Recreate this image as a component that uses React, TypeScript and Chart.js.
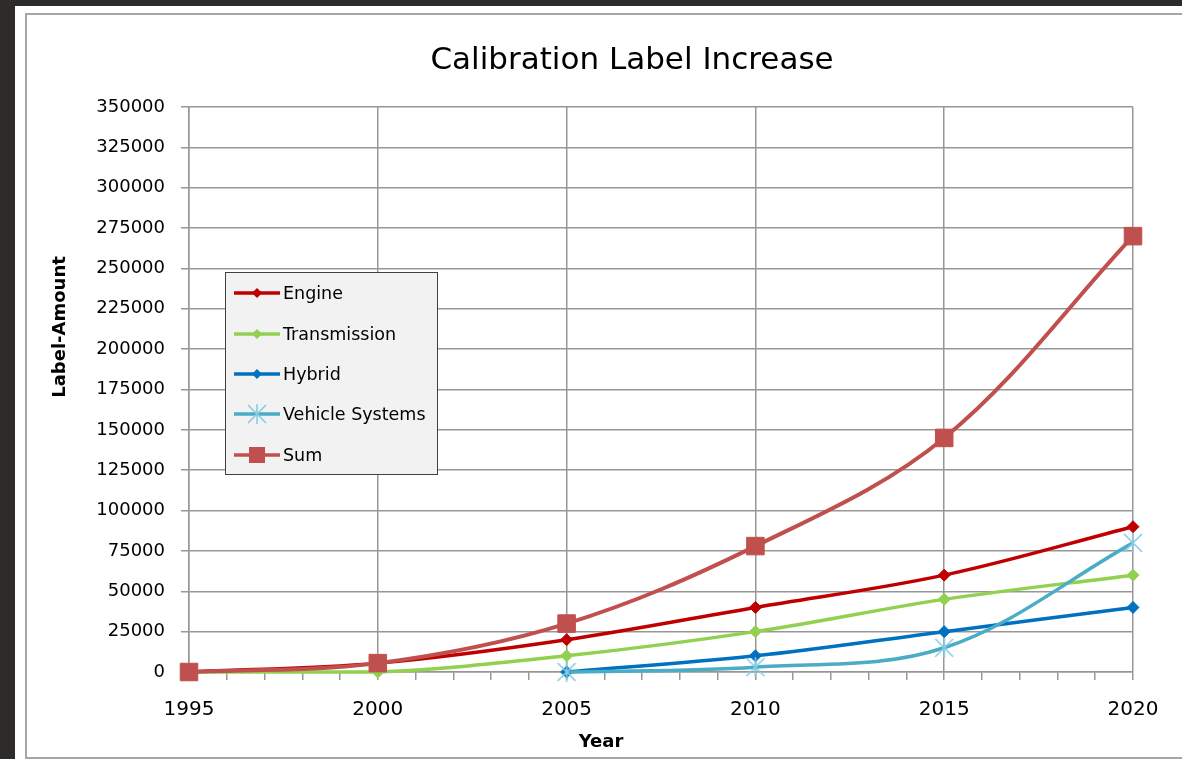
import React, { useEffect, useRef } from 'react';
import { Chart, registerables } from 'chart.js';

Chart.register(...registerables);

// ---- data ----
const years = [1995, 2000, 2005, 2010, 2015, 2020];
const engine = [0, 5500, 20000, 40000, 60000, 90000];
const transmission = [0, 0, 10000, 25000, 45000, 60000];
const hybrid = [null, null, 0, 10000, 25000, 40000];
const vehicleSystems = [null, null, 0, 3000, 15000, 80000];
const sum = [0, 5500, 30000, 78000, 145000, 270000];

const seriesLabels = ['Engine', 'Transmission', 'Hybrid', 'Vehicle Systems', 'Sum'];
const yTickMax = 350000;
const yTickStep = 25000;

const TITLE = 'Calibration Label Increase';
const X_TITLE = 'Year';
const Y_TITLE = 'Label-Amount';

const FONT = "'DejaVu Sans', sans-serif";
const GRID = '#979797';

const COLORS = ['#c00000', '#92d050', '#0070c0', '#4bacc6', '#c0504d'];
const STAR_COLOR = '#86cde3';

function makeStar(color: string) {
  const c = document.createElement('canvas');
  const s = 22;
  c.width = s;
  c.height = s;
  const g = c.getContext('2d')!;
  g.strokeStyle = color;
  g.lineWidth = 1.6;
  const m = s / 2;
  g.beginPath();
  g.moveTo(m - 9, m - 9);
  g.lineTo(m + 9, m + 9);
  g.moveTo(m + 9, m - 9);
  g.lineTo(m - 9, m + 9);
  g.moveTo(m, m - 10);
  g.lineTo(m, m + 10);
  g.stroke();
  return c;
}

const toPoints = (vals: (number | null)[]) => years.map((x, i) => ({ x, y: vals[i] }));

export default function App() {
  const ref = useRef<HTMLCanvasElement>(null);

  useEffect(() => {
    const canvas = ref.current!;
    const star = makeStar(STAR_COLOR);

    const decorPlugin = {
      id: 'decor',
      afterDraw(chart: any) {
        const ctx = chart.ctx as CanvasRenderingContext2D;
        ctx.save();
        // title
        ctx.fillStyle = '#000';
        ctx.font = `31px ${FONT}`;
        ctx.textAlign = 'center';
        ctx.textBaseline = 'alphabetic';
        ctx.fillText(TITLE, 632, 69);
        // x title
        ctx.font = `bold 18px ${FONT}`;
        ctx.fillText(X_TITLE, 601, 747);
        // y title
        ctx.save();
        ctx.translate(65, 327);
        ctx.rotate(-Math.PI / 2);
        ctx.fillText(Y_TITLE, 0, 0);
        ctx.restore();

        // legend
        const bx = 225.5, by = 272.5, bw = 212, bh = 202;
        ctx.fillStyle = '#f2f2f2';
        ctx.fillRect(bx, by, bw, bh);
        ctx.strokeStyle = '#404040';
        ctx.lineWidth = 1;
        ctx.strokeRect(bx, by, bw, bh);
        const rows = [293, 334, 374, 414, 455];
        chart.data.datasets.forEach((ds: any, i: number) => {
          const y = rows[i];
          const col = COLORS[i];
          ctx.strokeStyle = col;
          ctx.lineWidth = 3.5;
          ctx.beginPath();
          ctx.moveTo(234, y);
          ctx.lineTo(280, y);
          ctx.stroke();
          const mx = 257;
          ctx.fillStyle = col;
          if (i < 3) {
            const r = 5;
            ctx.beginPath();
            ctx.moveTo(mx, y - r);
            ctx.lineTo(mx + r, y);
            ctx.lineTo(mx, y + r);
            ctx.lineTo(mx - r, y);
            ctx.closePath();
            ctx.fill();
          } else if (i === 3) {
            ctx.drawImage(star, mx - 11, y - 11);
          } else {
            ctx.fillRect(mx - 8, y - 8, 16, 16);
          }
          ctx.fillStyle = '#000';
          ctx.font = `17.5px ${FONT}`;
          ctx.textAlign = 'left';
          ctx.textBaseline = 'middle';
          ctx.fillText(ds.label, 283, y + 1);
        });
        ctx.restore();
      },
    };

    const common = {
      tension: 0.35,
      clip: false as any,
      pointBorderWidth: 1,
    };

    const chart = new Chart(canvas, {
      type: 'line',
      data: {
        datasets: [
          {
            ...common,
            label: seriesLabels[0],
            data: toPoints(engine) as any,
            borderColor: COLORS[0],
            backgroundColor: COLORS[0],
            borderWidth: 3.5,
            pointStyle: 'rectRot',
            pointRadius: 6,
            order: 5,
          },
          {
            ...common,
            label: seriesLabels[1],
            data: toPoints(transmission) as any,
            borderColor: COLORS[1],
            backgroundColor: COLORS[1],
            borderWidth: 3.5,
            pointStyle: 'rectRot',
            pointRadius: 6,
            order: 4,
          },
          {
            ...common,
            label: seriesLabels[2],
            data: toPoints(hybrid) as any,
            borderColor: COLORS[2],
            backgroundColor: COLORS[2],
            borderWidth: 3.5,
            pointStyle: 'rectRot',
            pointRadius: 6,
            order: 3,
          },
          {
            ...common,
            label: seriesLabels[3],
            data: toPoints(vehicleSystems) as any,
            borderColor: COLORS[3],
            backgroundColor: COLORS[3],
            borderWidth: 3.5,
            pointStyle: star as any,
            pointRadius: 10,
            order: 2,
          },
          {
            ...common,
            label: seriesLabels[4],
            data: toPoints(sum) as any,
            borderColor: COLORS[4],
            backgroundColor: COLORS[4],
            borderWidth: 4,
            pointStyle: 'rect',
            pointRadius: 12.4,
            order: 1,
          },
        ],
      },
      options: {
        responsive: false,
        animation: false,
        devicePixelRatio: 1,
        events: [],
        layout: { padding: { left: 0, top: 107, right: 49, bottom: 0 } },
        font: { family: FONT } as any,
        plugins: {
          legend: { display: false },
          tooltip: { enabled: false },
          title: { display: false },
        },
        scales: {
          x: {
            type: 'linear',
            min: years[0],
            max: years[years.length - 1],
            ticks: {
              stepSize: 1,
              autoSkip: false,
              maxRotation: 0,
              padding: 18,
              color: '#000',
              font: { family: FONT, size: 20 },
              callback: (v: any) => (Number(v) % 5 === 0 ? String(v) : ''),
            },
            grid: {
              color: (c: any) => (c.tick && c.tick.value % 5 === 0 ? GRID : 'rgba(0,0,0,0)'),
              tickColor: GRID,
              tickLength: 8,
              lineWidth: 1.5,
            },
            border: { color: GRID, width: 1.5 },
            afterFit: (s: any) => {
              s.height = 87;
            },
          },
          y: {
            min: 0,
            max: yTickMax,
            ticks: {
              stepSize: yTickStep,
              padding: 16,
              color: '#000',
              font: { family: FONT, size: 18 },
              callback: (v: any) => String(v),
            },
            grid: { color: GRID, tickColor: GRID, tickLength: 8, lineWidth: 1.5 },
            border: { color: GRID, width: 1.5 },
            afterFit: (s: any) => {
              s.width = 189;
            },
          },
        },
      },
      plugins: [decorPlugin],
    });

    return () => chart.destroy();
  }, []);

  return (
    <div style={{ position: 'fixed', left: 0, top: 0, width: 1182, height: 759, background: '#2e2c2a', overflow: 'hidden' }}>
      <div style={{ position: 'absolute', left: 15, top: 6, right: 0, bottom: 0, background: '#ffffff' }} />
      <div
        style={{
          position: 'absolute',
          left: 25,
          top: 13,
          width: 1200,
          height: 746,
          border: '2px solid #a6a6a6',
          boxSizing: 'border-box',
        }}
      />
      <canvas ref={ref} width={1182} height={759} style={{ position: 'absolute', left: 0, top: 0, width: 1182, height: 759 }} />
    </div>
  );
}
